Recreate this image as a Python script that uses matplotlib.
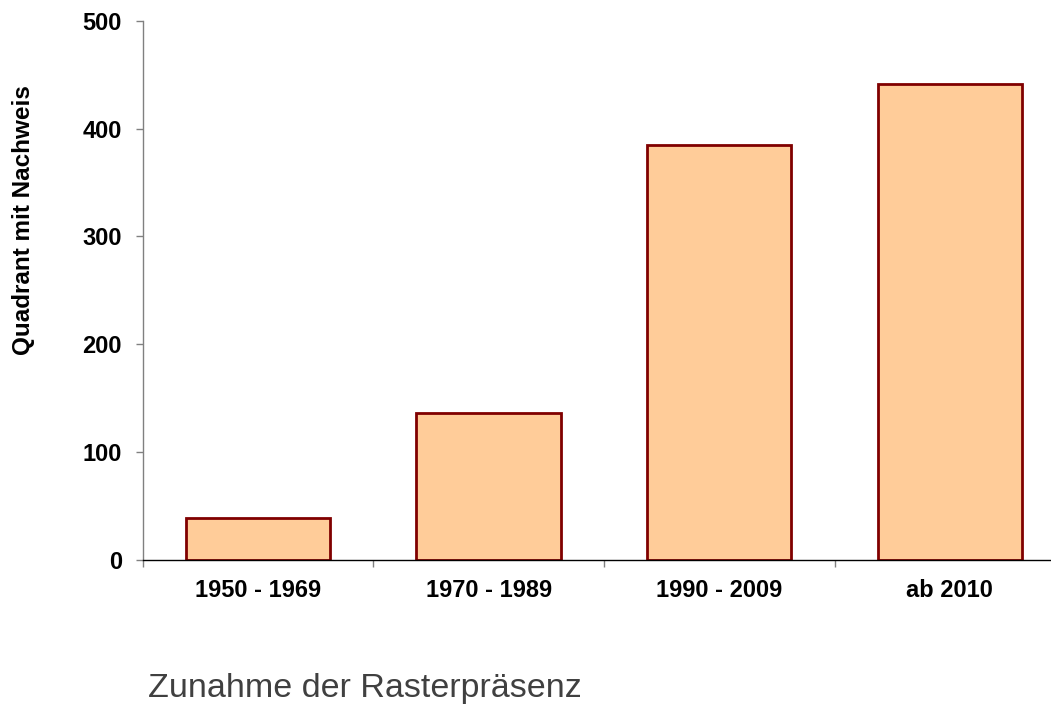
import matplotlib
matplotlib.use("Agg")
import matplotlib.pyplot as plt
import numpy as np

categories = ["1950 - 1969", "1970 - 1989", "1990 - 2009", "ab 2010"]
values = [39, 136, 385, 441]
yticks = [0, 100, 200, 300, 400, 500]

plt.rcParams['font.family'] = ['Liberation Sans', 'DejaVu Sans']

fig = plt.figure(figsize=(10.51, 7.05), dpi=100)
ax = fig.add_axes([0.1358, 0.2061, 0.8777, 0.7645])

x = np.arange(len(categories))
ax.bar(x, values, width=0.626, color="#FFCC99", edgecolor="#800000", linewidth=2.0, zorder=3)

ax.set_xlim(-0.5, len(categories) - 0.5)
ax.set_ylim(0, 500)
ax.set_yticks(yticks)
ax.set_yticklabels([str(v) for v in yticks], fontsize=17, fontweight='bold')

# category boundary ticks (major, no label), labels at centers (minor, no tick)
ax.set_xticks(np.arange(-0.5, len(categories) + 0.5, 1.0))
ax.set_xticklabels([])
ax.set_xticks(x, minor=True)
ax.set_xticklabels(categories, minor=True, fontsize=17, fontweight='bold')
ax.tick_params(axis='x', which='major', length=5, width=1, color='#808080', direction='out')
ax.tick_params(axis='x', which='minor', length=0, pad=14)
ax.tick_params(axis='y', length=5, width=1, color='#808080', direction='out', pad=10)

for s in ['top', 'right']:
    ax.spines[s].set_visible(False)
ax.spines['left'].set_color('#808080')
ax.spines['left'].set_linewidth(1.0)
ax.spines['bottom'].set_color('#000000')
ax.spines['bottom'].set_linewidth(1.0)
ax.spines['bottom'].set_zorder(4)

fig.text(24 / 1051, 1 - 220 / 705, "Quadrant mit Nachweis", fontsize=17.5, fontweight='bold',
         rotation=90, ha='center', va='center')

fig.text(148 / 1051, 1 - 688 / 705, "Zunahme der Rasterpräsenz", fontsize=24.5,
         color='#404040', ha='left', va='center')

fig.savefig("out.png", dpi=100)
